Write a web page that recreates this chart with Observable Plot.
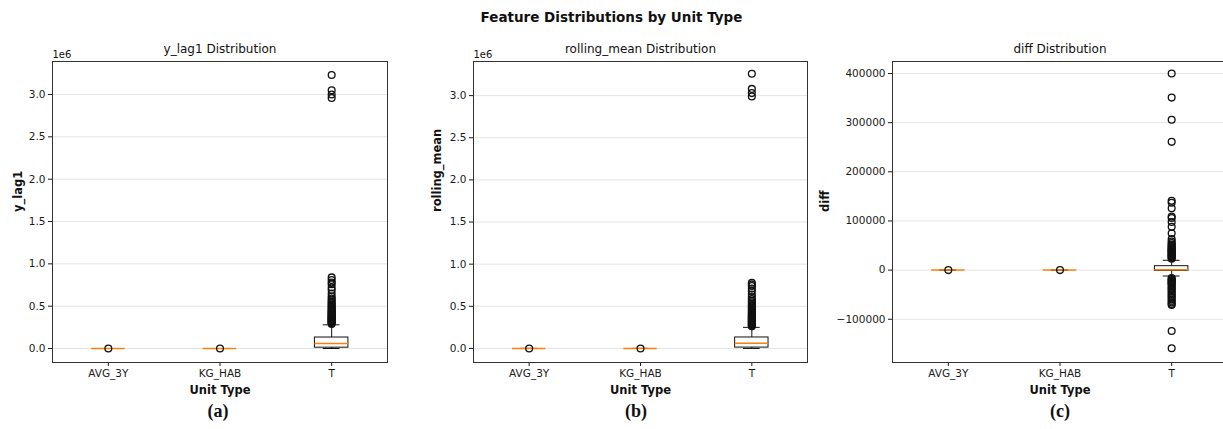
<!DOCTYPE html>
<html>
<head>
<meta charset="utf-8">
<script src="https://cdn.jsdelivr.net/npm/d3@7"></script>
<script src="https://cdn.jsdelivr.net/npm/@observablehq/plot@0.6"></script>
<style>
  html, body { margin: 0; padding: 0; background: #fff; }
  #page { position: relative; width: 1223px; height: 429px; overflow: hidden; font-family: "DejaVu Sans", sans-serif; }
  .panel { position: absolute; top: 30px; }
  .panel svg { display: block; max-width: none !important; overflow: visible; }
  #title { position: absolute; left: 0; top: 9px; width: 1223px; text-align: center; font-weight: bold; font-size: 13.5px; color: #111; }
  .cap { position: absolute; top: 401px; width: 60px; margin-left: -30px; text-align: center;
         font-family: "Liberation Serif", "Times New Roman", serif; font-weight: bold; font-size: 18px; color: #111; }
</style>
</head>
<body>
<div id="page">
  <div id="title">Feature Distributions by Unit Type</div>
  <div class="panel" id="pa" style="left:0px"></div>
  <div class="panel" id="pb" style="left:403px"></div>
  <div class="panel" id="pc" style="left:792px"></div>
  <div class="cap" style="left:218px">(a)</div>
  <div class="cap" style="left:636px">(b)</div>
  <div class="cap" style="left:1060px">(c)</div>
</div>
<script>
// Unit types along the x axis
const unitTypes = ["AVG_3Y", "KG_HAB", "T"];

// Box statistics per unit type: quartiles, median and whisker ends
const yLag1Stats = [
  {unit: "AVG_3Y", lo: 0, q1: 0, median: 0, q3: 0, hi: 0},
  {unit: "KG_HAB", lo: 0, q1: 0, median: 0, q3: 0, hi: 0},
  {unit: "T", lo: 0, q1: 10000, median: 60000, q3: 130000, hi: 280000}
];
const rollingMeanStats = [
  {unit: "AVG_3Y", lo: 0, q1: 0, median: 0, q3: 0, hi: 0},
  {unit: "KG_HAB", lo: 0, q1: 0, median: 0, q3: 0, hi: 0},
  {unit: "T", lo: 0, q1: 10000, median: 60000, q3: 130000, hi: 250000}
];
const diffStats = [
  {unit: "AVG_3Y", lo: 0, q1: 0, median: 0, q3: 0, hi: 0},
  {unit: "KG_HAB", lo: 0, q1: 0, median: 0, q3: 0, hi: 0},
  {unit: "T", lo: -12000, q1: -1500, median: 800, q3: 8000, hi: 20000}
];

// Outliers (fliers)
const zeroFliers = [0];
const yLag1FliersT = [
  290000, 300000, 308000, 315000, 322000, 330000, 338000, 345000, 352000, 360000,
  368000, 375000, 383000, 392000, 400000, 410000, 420000, 430000, 440000, 452000,
  465000, 478000, 490000, 505000, 520000, 535000, 552000, 570000, 590000, 615000,
  650000, 690000, 720000, 760000, 780000, 810000, 840000,
  2960000, 3000000, 3050000, 3230000
];
const rollingMeanFliersT = [
  262000, 270000, 278000, 285000, 292000, 300000, 308000, 316000, 324000, 332000,
  340000, 348000, 356000, 365000, 374000, 383000, 392000, 402000, 412000, 423000,
  435000, 447000, 460000, 473000, 487000, 500000, 515000, 530000, 548000, 565000,
  585000, 610000, 640000, 680000, 710000, 740000, 760000, 780000,
  2990000, 3030000, 3080000, 3260000
];
const diffFliersT = [
  23000, 24500, 26000, 27500, 29000, 30500, 32000, 33500, 35000, 36500,
  38000, 39500, 41000, 42500, 44000, 46000, 48000, 50000, 52000, 55000,
  58000, 63000, 75000, 88000, 98000, 106000, 109000, 126000, 137000, 141000,
  261000, 306000, 351000, 400000,
  -16000, -18000, -20000, -22000, -24000, -26000, -28000, -30000, -33000, -36000,
  -38000, -41000, -44000, -47000, -50000, -53000, -56000, -60000, -63000, -66000,
  -69000, -71000, -124000, -159000
];

// Tick values
const millionTicks = [0, 500000, 1000000, 1500000, 2000000, 2500000, 3000000];
const diffTicks = [-100000, 0, 100000, 200000, 300000, 400000];

const pos = u => unitTypes.indexOf(u) + 1;
const halfBox = 0.15;
const halfCap = 0.075;

function fliersOf(tFliers) {
  return [
    ...zeroFliers.map(v => ({unit: "AVG_3Y", value: v})),
    ...zeroFliers.map(v => ({unit: "KG_HAB", value: v})),
    ...tFliers.map(v => ({unit: "T", value: v}))
  ];
}

function panel({stats, fliers, yDomain, yTicks, yFormat, title, ylabel, labelDx, sci, marginLeft, frameWidth}) {
  return Plot.plot({
    width: marginLeft + frameWidth + 10,
    height: 370,
    marginLeft,
    marginRight: 10,
    marginTop: 31,
    marginBottom: 38,
    style: {fontFamily: "DejaVu Sans, sans-serif", fontSize: "10.5px", color: "#1a1a1a", background: "transparent"},
    x: {type: "linear", domain: [0.5, 3.5]},
    y: {type: "linear", domain: yDomain},
    marks: [
      Plot.gridY(yTicks, {stroke: "#e4e4e4", strokeOpacity: 1, strokeWidth: 1}),
      Plot.axisY({ticks: yTicks, tickFormat: yFormat, tickSize: 4, tickPadding: 3, label: null}),
      Plot.axisX({ticks: [1, 2, 3], tickFormat: i => unitTypes[i - 1], tickSize: 4, tickPadding: 3, label: null}),
      // boxes
      Plot.rect(stats, {x1: d => pos(d.unit) - halfBox, x2: d => pos(d.unit) + halfBox, y1: "q1", y2: "q3",
        fill: "none", stroke: "#111", strokeWidth: 1}),
      // whiskers
      Plot.ruleX(stats, {x: d => pos(d.unit), y1: "q3", y2: "hi", stroke: "#111", strokeWidth: 1}),
      Plot.ruleX(stats, {x: d => pos(d.unit), y1: "lo", y2: "q1", stroke: "#111", strokeWidth: 1}),
      // caps
      Plot.ruleY(stats, {y: "hi", x1: d => pos(d.unit) - halfCap, x2: d => pos(d.unit) + halfCap, stroke: "#111", strokeWidth: 1}),
      Plot.ruleY(stats, {y: "lo", x1: d => pos(d.unit) - halfCap, x2: d => pos(d.unit) + halfCap, stroke: "#111", strokeWidth: 1}),
      // medians
      Plot.ruleY(stats, {y: "median", x1: d => pos(d.unit) - halfBox, x2: d => pos(d.unit) + halfBox, stroke: "#ff7f0e", strokeWidth: 1.5}),
      // fliers
      Plot.dot(fliers, {x: d => pos(d.unit), y: "value", r: 3.4, fill: "none", stroke: "#111", strokeWidth: 1.3}),
      Plot.frame({stroke: "#333", strokeWidth: 1}),
      // titles and axis labels
      Plot.text([title], {frameAnchor: "top", dy: -12, lineAnchor: "middle", fontSize: 12, fill: "#111"}),
      Plot.text([ylabel], {frameAnchor: "left", dx: labelDx, rotate: -90, lineAnchor: "middle", fontWeight: "bold", fontSize: 11.5, fill: "#111"}),
      Plot.text(["Unit Type"], {frameAnchor: "bottom", dy: 28, lineAnchor: "middle", fontWeight: "bold", fontSize: 11.5, fill: "#111"}),
      sci ? Plot.text([sci], {frameAnchor: "top-left", textAnchor: "start", dy: -7, lineAnchor: "middle", fontSize: 10, fill: "#111"}) : null
    ]
  });
}

const millionFormat = d => (d / 1e6).toFixed(1);
const plainFormat = d => d < 0 ? "\u2212" + Math.abs(d) : String(d);

document.getElementById("pa").appendChild(panel({
  stats: yLag1Stats, fliers: fliersOf(yLag1FliersT),
  yDomain: [-165000, 3390000], yTicks: millionTicks, yFormat: millionFormat,
  title: "y_lag1 Distribution", ylabel: "y_lag1", labelDx: -34.5, sci: "1e6",
  marginLeft: 52, frameWidth: 335
}));
document.getElementById("pb").appendChild(panel({
  stats: rollingMeanStats, fliers: fliersOf(rollingMeanFliersT),
  yDomain: [-167000, 3405000], yTicks: millionTicks, yFormat: millionFormat,
  title: "rolling_mean Distribution", ylabel: "rolling_mean", labelDx: -36, sci: "1e6",
  marginLeft: 70, frameWidth: 334
}));
document.getElementById("pc").appendChild(panel({
  stats: diffStats, fliers: fliersOf(diffFliersT),
  yDomain: [-188000, 424500], yTicks: diffTicks, yFormat: plainFormat,
  title: "diff Distribution", ylabel: "diff", labelDx: -67, sci: null,
  marginLeft: 100, frameWidth: 335
}));
</script>
</body>
</html>
